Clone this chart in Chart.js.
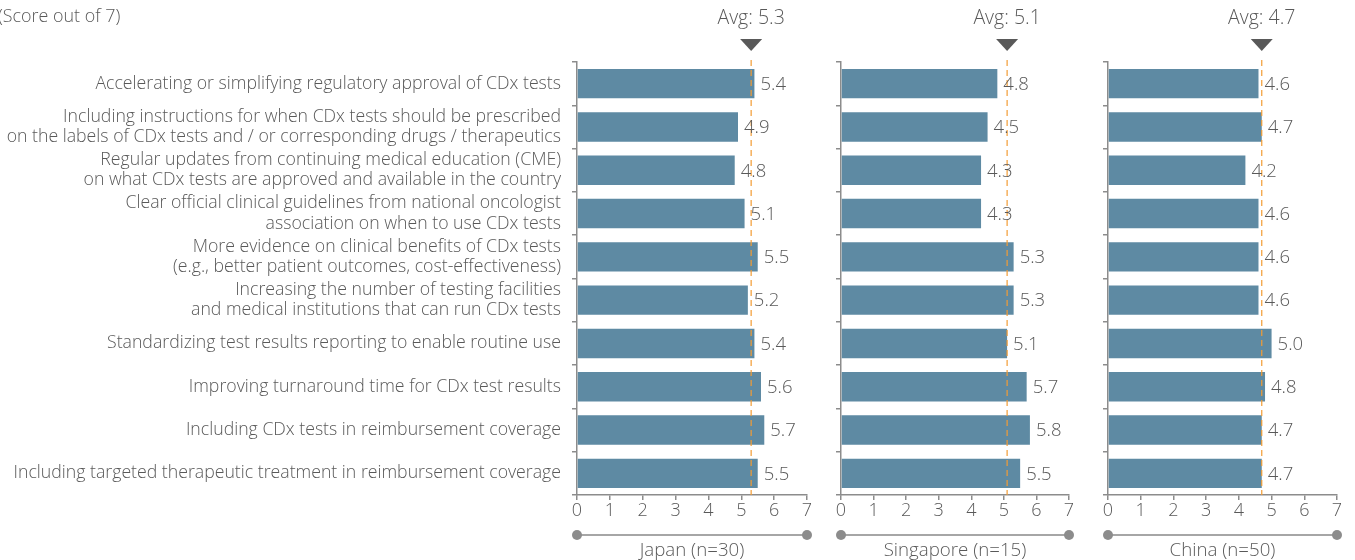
<!DOCTYPE html>
<html>
<head>
<meta charset="utf-8">
<script src="https://cdn.jsdelivr.net/npm/chart.js@4"></script>
<style>
  body { margin: 0; background: #fff; }
  #wrap { position: relative; width: 1355px; height: 560px; overflow: hidden; }
  canvas { position: absolute; top: 0; }
</style>
</head>
<body>
<div id="wrap">
  <canvas id="japan" width="820" height="560" style="left:0"></canvas>
  <canvas id="singapore" width="255" height="560" style="left:830px"></canvas>
  <canvas id="china" width="258" height="560" style="left:1097px"></canvas>
</div>
<script>
const categories = [
    "Accelerating or simplifying regulatory approval of CDx tests",
    ["Including instructions for when CDx tests should be prescribed", "on the labels of CDx tests and / or corresponding drugs / therapeutics"],
    ["Regular updates from continuing medical education (CME)", "on what CDx tests are approved and available in the country"],
    ["Clear official clinical guidelines from national oncologist", "association on when to use CDx tests"],
    ["More evidence on clinical benefits of CDx tests", "(e.g., better patient outcomes, cost-effectiveness)"],
    ["Increasing the number of testing facilities", "and medical institutions that can run CDx tests"],
    "Standardizing test results reporting to enable routine use",
    "Improving turnaround time for CDx test results",
    "Including CDx tests in reimbursement coverage",
    "Including targeted therapeutic treatment in reimbursement coverage"
];
const japanScores = [5.4, 4.9, 4.8, 5.1, 5.5, 5.2, 5.4, 5.6, 5.7, 5.5];
const singaporeScores = [4.8, 4.5, 4.3, 4.3, 5.3, 5.3, 5.1, 5.7, 5.8, 5.5];
const chinaScores = [4.6, 4.7, 4.2, 4.6, 4.6, 4.6, 5.0, 4.8, 4.7, 4.7];
const averages = [5.3, 5.1, 4.7];
const panelTitles = ["Japan (n=30)", "Singapore (n=15)", "China (n=50)"];
const xTicks = [0, 1, 2, 3, 4, 5, 6, 7];

const FONT = "'Open Sans', 'Noto Sans', sans-serif";
const TEXT = "#595959";
const AXIS = "#8c8c8c";
const BAR = "#5e8aa3";

// draws value labels, average marker and the bottom caption
const extras = {
    id: "extras",
    afterDatasetsDraw(chart, args, opts) {
        const ctx = chart.ctx;
        const area = chart.chartArea;
        const x = chart.scales.x;
        const meta = chart.getDatasetMeta(0);
        const vals = chart.data.datasets[0].data;
        ctx.save();

        // average line + marker
        const ax = x.getPixelForValue(opts.avg);
        ctx.strokeStyle = "#f39c34";
        ctx.lineWidth = 1.2;
        ctx.setLineDash([6, 4]);
        ctx.beginPath();
        ctx.moveTo(ax, area.top - 2);
        ctx.lineTo(ax, area.bottom);
        ctx.stroke();
        ctx.setLineDash([]);

        ctx.fillStyle = TEXT;
        ctx.font = "300 18.5px " + FONT;
        ctx.textBaseline = "middle";
        ctx.textAlign = "left";
        meta.data.forEach((bar, i) => {
            ctx.fillText(vals[i].toFixed(1), bar.x + 6, bar.y + 1);
        });

        ctx.fillStyle = "#595959";
        ctx.beginPath();
        ctx.moveTo(ax - 11, 39);
        ctx.lineTo(ax + 11, 39);
        ctx.lineTo(ax, 51);
        ctx.closePath();
        ctx.fill();

        ctx.textAlign = "center";
        ctx.font = "300 19.5px " + FONT;
        ctx.fillText("Avg: " + opts.avg.toFixed(1), ax, 18);

        // caption bar with dots
        const y = 535;
        ctx.strokeStyle = "#a6a6a6";
        ctx.lineWidth = 2;
        ctx.beginPath();
        ctx.moveTo(area.left, y);
        ctx.lineTo(area.right, y);
        ctx.stroke();
        ctx.fillStyle = AXIS;
        [area.left, area.right].forEach((px) => {
            ctx.beginPath();
            ctx.arc(px, y, 5, 0, Math.PI * 2);
            ctx.fill();
        });
        ctx.fillStyle = TEXT;
        ctx.font = "300 18.7px " + FONT;
        ctx.fillText(opts.title, (area.left + area.right) / 2, 551);

        if (opts.note) {
            ctx.textAlign = "left";
            ctx.font = "300 17.9px " + FONT;
            ctx.fillText(opts.note, -2, 17);
        }
        ctx.restore();
    }
};

function makePanel(id, values, avg, title, opts) {
    const config = {
        type: "bar",
        data: {
            labels: categories,
            datasets: [{
                data: values,
                backgroundColor: BAR,
                barPercentage: 0.68,
                categoryPercentage: 1
            }]
        },
        options: {
            indexAxis: "y",
            responsive: false,
            animation: false,
            devicePixelRatio: 1,
            layout: { padding: { top: 62, bottom: 0, left: 0, right: opts.padRight } },
            plugins: {
                legend: { display: false },
                tooltip: { enabled: false },
                extras: { avg: avg, title: title, note: opts.note }
            },
            scales: {
                x: {
                    min: 0,
                    max: 7,
                    afterBuildTicks: (scale) => { scale.ticks = xTicks.map((v) => ({ value: v })); },
                    afterFit: (scale) => { scale.height = 65; },
                    border: { display: true, color: AXIS, width: 1.5 },
                    grid: { display: true, drawOnChartArea: false, drawTicks: true, tickLength: 5, color: AXIS, lineWidth: 1.5 },
                    ticks: { color: TEXT, font: { family: FONT, size: 18, weight: 300 }, padding: 0, maxRotation: 0 }
                },
                y: {
                    afterFit: (scale) => { scale.width = opts.yWidth; },
                    border: { display: true, color: AXIS, width: 1.5 },
                    grid: { display: true, offset: true, drawOnChartArea: false, drawTicks: true, tickLength: 5, color: AXIS, lineWidth: 1.5 },
                    ticks: {
                        display: opts.showLabels,
                        color: TEXT,
                        padding: 11,
                        autoSkip: false,
                        font: { family: FONT, size: 17.7, weight: 300, lineHeight: 1.15 }
                    }
                }
            }
        },
        plugins: [extras]
    };
    return new Chart(document.getElementById(id), config);
}

makePanel("japan", japanScores, averages[0], panelTitles[0], { padRight: 13, yWidth: 577, showLabels: true, note: "(Score out of 7)" });
makePanel("singapore", singaporeScores, averages[1], panelTitles[1], { padRight: 16, yWidth: 11, showLabels: false });
makePanel("china", chinaScores, averages[2], panelTitles[2], { padRight: 18, yWidth: 11, showLabels: false });
</script>
</body>
</html>
